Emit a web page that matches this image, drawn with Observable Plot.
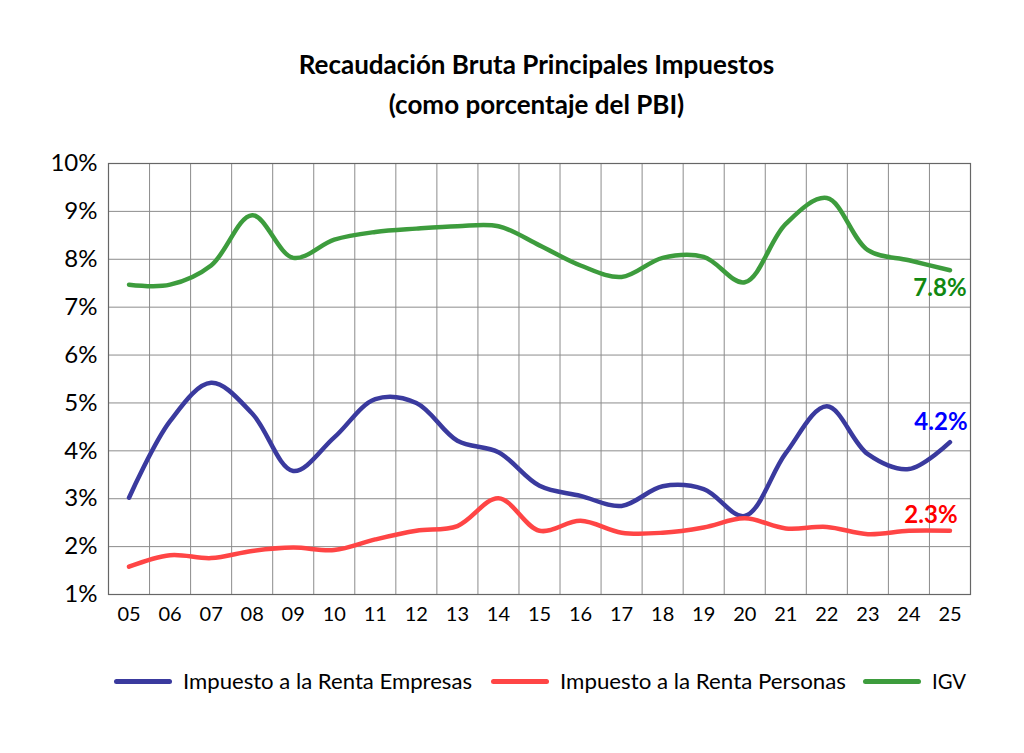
<!DOCTYPE html>
<html>
<head>
<meta charset="utf-8">
<script src="https://cdn.jsdelivr.net/npm/d3@7"></script>
<script src="https://cdn.jsdelivr.net/npm/@observablehq/plot@0.6"></script>
<style>
  html, body { margin: 0; padding: 0; background: #fff; }
  body { width: 1024px; height: 753px; position: relative; overflow: hidden; font-family: Lato, "Open Sans", sans-serif; }
  #title { position: absolute; top: 44px; left: 0; width: 1073px; text-align: center; font-weight: 700; font-size: 26px; line-height: 40px; color: #000; }
  #chart { position: absolute; top: 125px; left: 0; }
  #legend { position: absolute; top: 668px; left: 114px; display: flex; align-items: center; font-size: 22px; line-height: 26px; height: 26px; color: #000; }
  .item { display: flex; align-items: center; }
  .sw { width: 58px; height: 5px; border-radius: 2.5px; margin-right: 11px; }
  .lbl { display: inline-block; white-space: nowrap; transform-origin: left center; }
</style>
</head>
<body>
<div id="title">Recaudación Bruta Principales Impuestos<br>(como porcentaje del PBI)</div>
<div id="chart"></div>
<div id="legend"></div>
<script>
const years = ["05","06","07","08","09","10","11","12","13","14","15","16","17","18","19","20","21","22","23","24","25"];
const empresas = [3.02,4.62,5.42,4.78,3.58,4.28,5.08,5.00,4.21,3.97,3.27,3.06,2.85,3.26,3.20,2.64,3.95,4.93,3.93,3.62,4.18];
const personas = [1.58,1.82,1.76,1.91,1.98,1.93,2.15,2.33,2.43,3.01,2.33,2.54,2.29,2.29,2.40,2.59,2.38,2.41,2.26,2.33,2.33];
const igv = [7.47,7.47,7.87,8.92,8.03,8.41,8.57,8.64,8.69,8.69,8.29,7.87,7.63,8.03,8.05,7.52,8.74,9.28,8.19,7.98,7.77];
const yTicks = [1,2,3,4,5,6,7,8,9,10];

const seriesNames = ["Impuesto a la Renta Empresas", "Impuesto a la Renta Personas", "IGV"];
const lineColors = ["#3a3a9e", "#ff4545", "#3d9c3d"];
const labelColors = ["#0000ff", "#ff0000", "#118811"];
const seriesValues = [empresas, personas, igv];
const labelDx = [-9, -19, -10];
const labelDy = [-20, -15, 18];

const rows = [];
seriesValues.forEach((vals, s) => vals.forEach((v, i) => rows.push({s, i, v})));
const last = years.length - 1;
const endLabels = seriesValues.map((vals, s) => ({s, i: last, v: vals[last], text: vals[last].toFixed(1) + "%"}));
const bounds = d3.range(-0.5, years.length, 1);

const marks = [
  Plot.ruleY(yTicks, {stroke: "#8c8c8c", strokeWidth: 1}),
  Plot.ruleX(bounds, {stroke: "#8c8c8c", strokeWidth: 1}),
  Plot.frame({stroke: "#666", strokeWidth: 1.2}),
  ...seriesValues.map((vals, s) => Plot.line(rows.filter(r => r.s === s), {
    x: "i", y: "v", stroke: lineColors[s], strokeWidth: 4.5, curve: "catmull-rom", strokeLinecap: "round", strokeLinejoin: "round"
  })),
  ...endLabels.map(d => Plot.text([d], {
    x: "i", y: "v", text: "text", fill: labelColors[d.s], dx: labelDx[d.s], dy: labelDy[d.s],
    fontSize: 24, fontWeight: 700, fontFamily: "Lato, sans-serif"
  })),
  Plot.axisY(yTicks, {tickSize: 0, tickPadding: 11, fontSize: 24, tickFormat: d => d + "%", fill: "#000", label: null}),
  Plot.axisX(d3.range(years.length), {tickSize: 0, tickPadding: 12, fontSize: 20, tickFormat: i => years[i], fill: "#000", label: null})
];

const chart = Plot.plot({
  width: 1024,
  height: 520,
  marginLeft: 108,
  marginRight: 54,
  marginTop: 38,
  marginBottom: 51,
  style: {fontFamily: "Lato, sans-serif", background: "#fff", color: "#000", overflow: "visible"},
  x: {type: "linear", domain: [-0.5, years.length - 0.5], label: null},
  y: {type: "linear", domain: [1, 10], label: null},
  marks
});
document.getElementById("chart").appendChild(chart);

const legendWidths = [289, 286, 34];
const legendGaps = [19, 17, 0];
const legend = document.getElementById("legend");
seriesNames.forEach((name, s) => {
  const item = document.createElement("div");
  item.className = "item";
  item.style.marginRight = legendGaps[s] + "px";
  const sw = document.createElement("div");
  sw.className = "sw";
  sw.style.background = lineColors[s];
  const box = document.createElement("div");
  box.style.width = legendWidths[s] + "px";
  box.style.overflow = "visible";
  const lbl = document.createElement("span");
  lbl.className = "lbl";
  lbl.textContent = name;
  box.appendChild(lbl);
  item.appendChild(sw);
  item.appendChild(box);
  legend.appendChild(item);
  const w = lbl.getBoundingClientRect().width;
  lbl.style.transform = "scaleX(" + (legendWidths[s] / w) + ")";
});
</script>
</body>
</html>
